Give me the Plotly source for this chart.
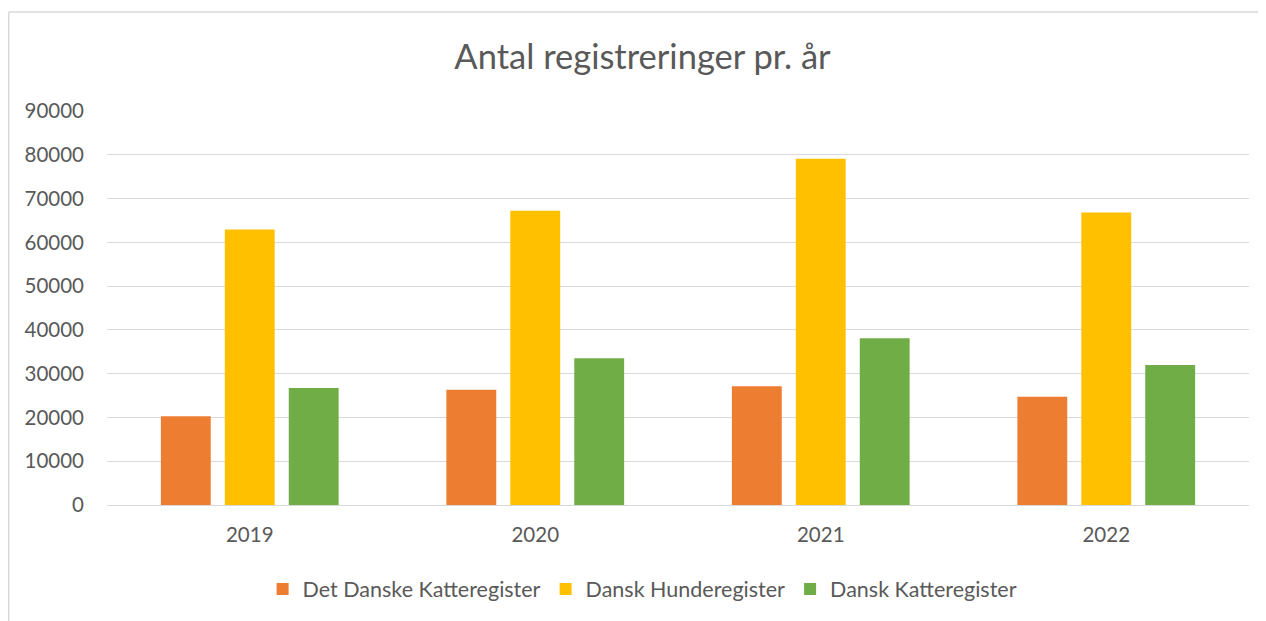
import plotly.graph_objects as go

years = ["2019", "2020", "2021", "2022"]
series_names = ["Det Danske Katteregister", "Dansk Hunderegister", "Dansk Katteregister"]
det_danske_katteregister = [20300, 26350, 27100, 24700]
dansk_hunderegister = [62950, 67200, 79100, 66800]
dansk_katteregister = [26700, 33500, 38100, 32000]
colors = ["#ED7D31", "#FFC000", "#70AD47"]
y_ticks = [0, 10000, 20000, 30000, 40000, 50000, 60000, 70000, 80000, 90000]

# page has an 8px body margin, so the figure is laid out 8px smaller
W, H = 1258, 613
L, T = 99, 103
pw, ph = 1142, 394
R = W - L - pw
B = H - T - ph

fig = go.Figure()
for name, vals, col in zip(series_names,
                           [det_danske_katteregister, dansk_hunderegister, dansk_katteregister],
                           colors):
    fig.add_trace(go.Bar(x=years, y=vals, name=name, marker=dict(color=col, line=dict(width=0))))

font_family = "Lato, 'Open Sans', sans-serif"
fig.update_layout(
    width=W, height=H,
    margin=dict(l=L, r=R, t=T, b=B),
    paper_bgcolor="white", plot_bgcolor="white",
    barmode="group", bargap=0.328, bargroupgap=0.22,
    font=dict(family=font_family, color="#595959", size=20.5),
    title=dict(text="Antal registreringer pr. år", x=(642.5 - 8) / W, xanchor="center",
               y=1 - 49 / H, yanchor="middle",
               font=dict(size=34.5, color="#595959", family=font_family)),
    showlegend=True,
    legend=dict(orientation="h", x=0.469, xanchor="center", y=-(581 - (T + ph)) / ph, yanchor="middle",
                font=dict(size=21.5, color="#595959"), itemwidth=30, traceorder="normal",
                bgcolor="rgba(0,0,0,0)"),
    xaxis=dict(showgrid=False, showline=True, linecolor="#d9d9d9", linewidth=1,
               ticks="", tickfont=dict(size=20.5, color="#595959"), ticklabelstandoff=11),
    yaxis=dict(range=[0, 90000], tickvals=y_ticks, ticktext=[str(v) for v in y_ticks],
               showgrid=True, gridcolor="#d9d9d9", gridwidth=1, zeroline=False,
               showline=False, ticks="", tickfont=dict(size=20.5, color="#595959"),
               ticklabelstandoff=22),
)

# chart-area border (Excel style), partially visible at left and top
bx = (0.75 - L) / pw
by = (T + ph - 4) / ph
fig.add_shape(type="line", xref="paper", yref="paper", x0=bx, x1=bx, y0=-0.5, y1=by,
              line=dict(color="#d9d9d9", width=1.5))
fig.add_shape(type="line", xref="paper", yref="paper", x0=bx, x1=1.2, y0=by, y1=by,
              line=dict(color="#d9d9d9", width=1.5))

fig.write_html("out.html")
